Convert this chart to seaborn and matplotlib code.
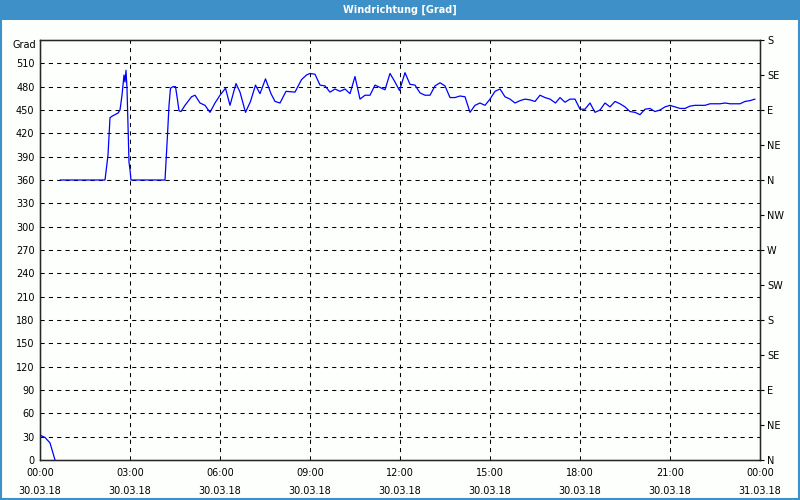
import numpy as np
import pandas as pd
import matplotlib
matplotlib.use("Agg")
import matplotlib.pyplot as plt
from matplotlib.patches import Rectangle
import seaborn as sns

# ------------------------------------------
# data: minutes since 30.03.18 00:00, wind direction in degrees
# ------------------------------------------

minutes_a = [0, 10, 20, 25, 30]
values_a = [32, 29, 22, 11, 0]

minutes_b = [40, 130, 136, 140, 144, 150, 156, 160, 164, 168, 170, 172, 174, 176, 178, 180, 182,
             250, 255, 258, 261, 266, 271, 275, 278, 282, 290, 303, 310, 320, 330, 340, 350,
             360, 371, 380, 392, 400, 411, 421, 431, 440, 451, 462, 470, 480, 492, 510, 523,
             533, 540, 550, 560, 570, 580, 590, 600, 610, 620, 630, 640, 650, 660, 670, 680,
             690, 700, 710, 719, 730, 740, 750, 760, 770, 780, 790, 800, 810, 820, 830, 840,
             850, 860, 870, 880, 890, 900, 910, 920, 930, 940, 950, 960, 970, 980, 990, 1000,
             1010, 1020, 1031, 1040, 1050, 1060, 1070, 1080, 1090, 1100, 1110, 1120, 1130,
             1140, 1150, 1160, 1170, 1180, 1190, 1200, 1210, 1220, 1230, 1240, 1250, 1260,
             1270, 1280, 1290, 1300, 1310, 1320, 1330, 1340, 1350, 1360, 1370, 1380, 1390,
             1400, 1410, 1420, 1430]
values_b = [360, 360, 392, 440, 442, 444, 446, 450, 469, 495, 486, 501, 478, 431, 383, 373, 360,
            360, 418, 456, 478, 480, 480, 463, 449, 448, 456, 467, 469, 459, 456, 447, 459,
            469, 478, 456, 484, 473, 447, 461, 482, 471, 490, 471, 461, 459, 474, 473, 489,
            495, 497, 496, 482, 481, 473, 477, 474, 477, 471, 493, 464, 469, 469, 482, 479,
            476, 497, 486, 475, 498, 483, 482, 472, 469, 469, 481, 485, 481, 466, 466, 468,
            467, 447, 456, 459, 456, 464, 474, 477, 467, 464, 459, 462, 464, 463, 461, 469,
            466, 464, 459, 466, 460, 464, 464, 451, 451, 459, 447, 450, 459,
            454, 461, 458, 454, 448, 447, 444, 451, 452, 448, 450, 454, 456,
            454, 452, 452, 455, 456, 456, 456, 458, 458, 458, 459, 458, 458,
            458, 461, 462, 464]

x_ticks = [0, 3, 6, 9, 12, 15, 18, 21, 24]
x_labels = ["00:00\n30.03.18", "03:00\n30.03.18", "06:00\n30.03.18", "09:00\n30.03.18",
            "12:00\n30.03.18", "15:00\n30.03.18", "18:00\n30.03.18", "21:00\n30.03.18",
            "00:00\n31.03.18"]
y_ticks = list(range(0, 511, 30))
compass_ticks = list(range(0, 541, 45))
compass_labels = ["N", "NE", "E", "SE", "S", "SW", "W", "NW", "N", "NE", "E", "SE", "S"]

df = pd.DataFrame({
    "hour": np.array(minutes_a + minutes_b) / 60.0,
    "grad": values_a + values_b,
    "seg": [0] * len(minutes_a) + [1] * len(minutes_b),
})

# ------------------------------------------
# plot
# ------------------------------------------

sns.set_style("white")
plt.rcParams["font.family"] = ["DejaVu Sans"]
plt.rcParams["text.color"] = "black"
plt.rcParams["xtick.color"] = "black"
plt.rcParams["ytick.color"] = "black"

bg = "#fcfffc"
blue_bar = "#3d91c8"

fig = plt.figure(figsize=(8, 5), dpi=100, facecolor=bg)

# title bar + window border
fig.patches.append(Rectangle((0, 0.96), 1, 0.04, transform=fig.transFigure,
                             facecolor=blue_bar, edgecolor="none", zorder=0))
fig.patches.append(Rectangle((0.001, 0.002), 0.998, 0.996, transform=fig.transFigure,
                             facecolor="none", edgecolor=blue_bar, linewidth=1.5, zorder=1))
fig.text(0.5, 0.98, "Windrichtung [Grad]", color="white", fontsize=7, fontweight="bold",
         ha="center", va="center")

ax = fig.add_axes([0.05, 0.08, 0.9, 0.84])
ax.set_facecolor(bg)

sns.lineplot(
    data=df,
    x="hour",
    y="grad",
    units="seg",
    estimator=None,
    color="#0000ff",
    linewidth=0.9,
    ax=ax
)

ax.set_xlim(0, 24)
ax.set_ylim(0, 540)
ax.set_xlabel("")
ax.set_ylabel("")

ax.set_xticks(x_ticks)
ax.set_xticklabels(x_labels, fontsize=7, linespacing=1.9, color="black")
ax.set_xticks(range(0, 25), minor=True)
ax.tick_params(axis="x", which="both", direction="out", length=3, width=0.8, pad=3,
               colors="black")

ax.set_yticks(y_ticks)
ax.set_yticklabels([str(v) for v in y_ticks], fontsize=7, color="black")
ax.tick_params(axis="y", length=0, pad=4)
ax.text(-0.006, 1.0, "Grad", transform=ax.transAxes, fontsize=7, ha="right", va="top",
        color="black")

ax.grid(True, which="major", color="black", linestyle=(0, (4, 4)), linewidth=0.75)

for s in ax.spines.values():
    s.set_visible(True)
    s.set_color("black")
    s.set_linewidth(1.0)

ax2 = ax.twinx()
ax2.set_ylim(0, 540)
ax2.set_yticks(compass_ticks)
ax2.set_yticklabels(compass_labels, fontsize=7, color="black")
ax2.tick_params(axis="y", direction="out", length=3, width=0.8, pad=2, colors="black")
ax2.grid(False)

plt.savefig("out.png", dpi=100, facecolor=bg)
